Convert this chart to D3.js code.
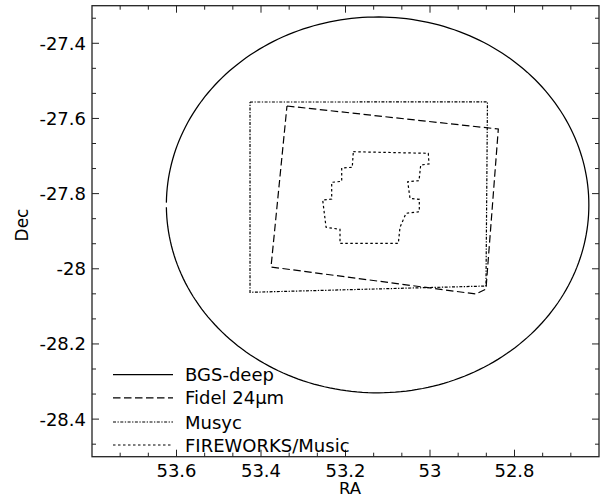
<!DOCTYPE html>
<html><head><meta charset="utf-8">
<script src="https://cdn.jsdelivr.net/npm/d3@7"></script>
<style>body{margin:0;background:#fff}svg{display:block}text{font-family:"DejaVu Sans",sans-serif;fill:#000}</style>
</head><body><svg id="c" width="600" height="497"></svg>
<script>
// ---- data ----
const xDomain = [53.8, 52.6];           // RA (reversed)
const yDomain = [-28.5, -27.3];         // Dec
const xTicks = [53.6, 53.4, 53.2, 53, 52.8];
const yTicks = [-27.4, -27.6, -27.8, -28, -28.2, -28.4];
const seriesNames = ["BGS-deep", "Fidel 24\u03bcm", "Musyc", "FIREWORKS/Music"];
// BGS-deep circle: centre and radius (deg)
const bgsCenter = [53.124, -27.83];
const bgsRadius = 0.5;
const fidelRA  = [53.3385, 52.8383, 52.8675, 52.8911, 53.3763, 53.3385];
const fidelDec = [-27.5669, -27.6281, -28.0539, -28.0672, -27.9953, -27.5669];
const musycRA  = [53.426, 52.864, 52.8675, 53.426, 53.426];
const musycDec = [-27.5563, -27.556, -28.0459, -28.0626, -27.5563];
const fwRA  = [53.1815, 53.004, 53.0024, 53.022, 53.026, 53.0528, 53.0473, 53.0253, 53.0253, 53.0568, 53.071, 53.075,
               53.213, 53.213, 53.246, 53.254, 53.2327, 53.2327, 53.209, 53.209, 53.184, 53.1815];
const fwDec = [-27.6885, -27.6928, -27.7212, -27.7239, -27.7657, -27.7683, -27.8125, -27.8152, -27.8482, -27.8524, -27.8897, -27.9323,
               -27.9323, -27.895, -27.8897, -27.817, -27.8144, -27.77, -27.7673, -27.7319, -27.73, -27.6885];

// ---- layout ----
const L = 92, R = 599, T = 5.7, B = 456.7;
const svg = d3.select("#c");
const x = d3.scaleLinear().domain(xDomain).range([L, R]);
const y = d3.scaleLinear().domain(yDomain).range([B, T]);
const line = d3.line().x(d => x(d[0])).y(d => y(d[1]));

const styles = [
  {dash: null, w: 1.25},
  {dash: "7.5,3.5", w: 1.2},
  {dash: "3,1.5,1.3,1.5", w: 1.2},
  {dash: "2.5,2.5", w: 1.2}
];

// circle (starts and ends at the high-RA side, leaving a small gap)
const nC = 240, gap = 0.012;
const circ = d3.range(nC + 1).map(i => {
  const a = gap + (2 * Math.PI - 2 * gap) * i / nC;
  return [bgsCenter[0] + bgsRadius * Math.cos(a), bgsCenter[1] + bgsRadius * Math.sin(a)];
});
const g = svg.append("g");
g.append("path").attr("d", line(circ)).attr("fill", "none").attr("stroke", "#000").attr("stroke-width", styles[0].w);
const polys = [
  [fidelRA, fidelDec],
  [musycRA, musycDec],
  [fwRA, fwDec]
];
polys.forEach((p, i) => {
  const pts = p[0].map((v, j) => [v, p[1][j]]);
  g.append("path").attr("d", line(pts)).attr("fill", "none").attr("stroke", "#000")
    .attr("stroke-width", styles[i + 1].w).attr("stroke-dasharray", styles[i + 1].dash);
});

// frame
svg.append("rect").attr("x", L).attr("y", T).attr("width", R - L).attr("height", B - T)
  .attr("fill", "none").attr("stroke", "#222").attr("stroke-width", 1.3);

// ticks
function minors(major, dom) {
  const step = 0.2 / 3, lo = Math.min(...dom), hi = Math.max(...dom);
  const out = [];
  for (let n = -40; n <= 40; n++) {
    if (n % 3 === 0) continue;
    const v = major[0] + n * step;
    if (v > lo + 1e-6 && v < hi - 1e-6) out.push(v);
  }
  return out;
}
const xMin = minors(xTicks, xDomain), yMin = minors(yTicks, yDomain);
const tk = svg.append("g").attr("stroke", "#222").attr("stroke-width", 1);
[[xTicks, 7], [xMin, 4]].forEach(([arr, len]) => arr.forEach(v => {
  tk.append("line").attr("x1", x(v)).attr("x2", x(v)).attr("y1", B).attr("y2", B - len);
  tk.append("line").attr("x1", x(v)).attr("x2", x(v)).attr("y1", T).attr("y2", T + len);
}));
[[yTicks, 7], [yMin, 4]].forEach(([arr, len]) => arr.forEach(v => {
  tk.append("line").attr("y1", y(v)).attr("y2", y(v)).attr("x1", L).attr("x2", L + len);
  tk.append("line").attr("y1", y(v)).attr("y2", y(v)).attr("x1", R).attr("x2", R - len);
}));

// tick labels
xTicks.forEach(v => svg.append("text").attr("x", x(v)).attr("y", 477).attr("text-anchor", "middle")
  .attr("font-size", 18).text(String(v)));
yTicks.forEach(v => svg.append("text").attr("x", 86).attr("y", y(v) + 6.5).attr("text-anchor", "end")
  .attr("font-size", 18).text(String(v)));
svg.append("text").attr("x", 350).attr("y", 494).attr("text-anchor", "middle").attr("font-size", 16.5).text("RA");
svg.append("text").attr("transform", "translate(28,225) rotate(-90)").attr("text-anchor", "middle")
  .attr("font-size", 17).text("Dec");

// legend
const legY = [374.5, 397.8, 422, 445];
seriesNames.forEach((name, i) => {
  svg.append("line").attr("x1", 113).attr("x2", 173).attr("y1", legY[i]).attr("y2", legY[i])
    .attr("stroke", "#000").attr("stroke-width", styles[i].w).attr("stroke-dasharray", styles[i].dash);
  svg.append("text").attr("x", 185).attr("y", legY[i] + 6.5).attr("font-size", 18).text(name);
});
</script></body></html>
